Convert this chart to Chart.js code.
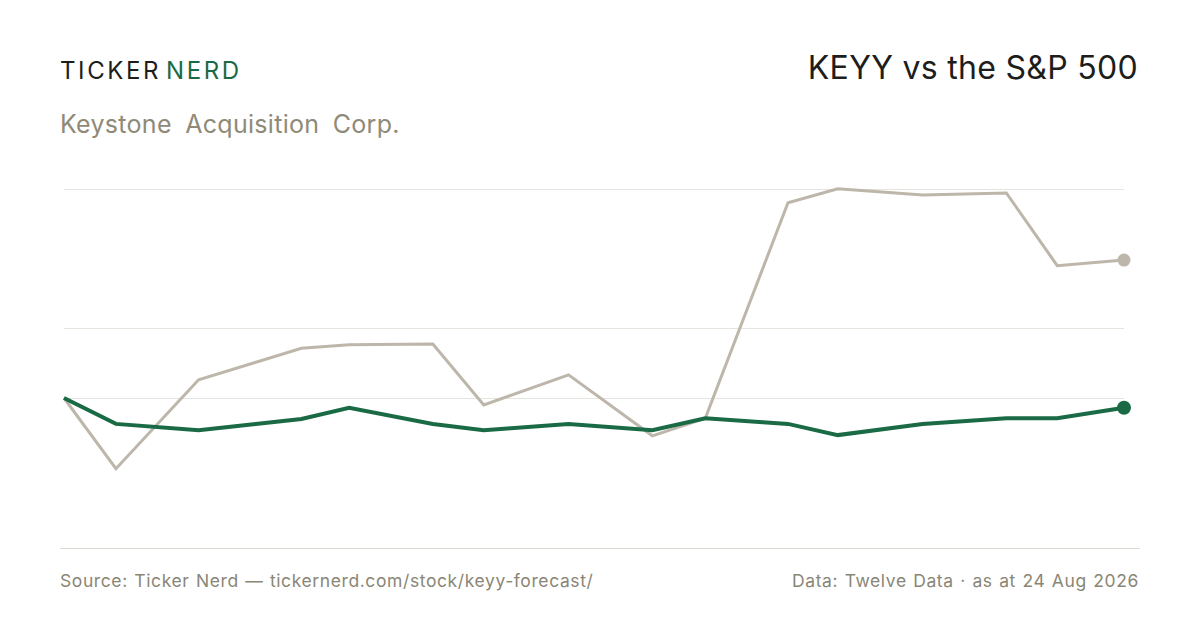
<!DOCTYPE html>
<html><head><meta charset="utf-8">
<script src="https://cdn.jsdelivr.net/npm/chart.js@4"></script>
<style>
body{margin:0;width:1200px;height:630px;background:#fff;font-family:Inter,"Noto Sans",sans-serif;position:relative;overflow:hidden}
.abs{position:absolute;white-space:nowrap}
#logo{left:60px;top:56px;font-size:24px;letter-spacing:2.6px;color:#1d1d1b}
#logo span{color:#1a6b45;margin-left:5px}
#sub{left:60px;top:109px;font-size:25px;color:#8f8a78;word-spacing:6px;letter-spacing:0.3px}
#title{right:62px;top:48px;font-size:32px;color:#1d1d1b;letter-spacing:0.3px}
#base{left:60px;width:1080px;top:548px;height:1px;background:#dcdad2}
.foot{top:570px;font-size:17.5px;color:#8a8676;letter-spacing:0.6px;word-spacing:1px}
canvas{position:absolute;left:0;top:0}
</style></head><body>
<div class="abs" id="logo">TICKER<span>NERD</span></div>
<div class="abs" id="sub">Keystone Acquisition Corp.</div>
<div class="abs" id="title">KEYY vs the S&amp;P 500</div>
<div class="abs" id="base"></div>
<div class="abs foot" style="left:60px">Source: Ticker Nerd — tickernerd.com/stock/keyy-forecast/</div>
<div class="abs foot" style="right:61px">Data: Twelve Data · as at 24 Aug 2026</div>
<canvas id="chart" width="1200" height="630"></canvas>
<script>
// x positions in time (0-100), % return since start
const times = [0, 4.9, 12.7, 22.4, 26.9, 34.8, 39.6, 47.6, 55.5, 60.5, 68.3, 73.0, 81.0, 88.9, 93.7, 100];
const keyy  = [0, -10.1, 2.6, 7.1, 7.6, 7.7, -1.0, 3.3, -5.4, -2.9, 27.9, 29.9, 29.0, 29.3, 18.9, 19.7];
const spx   = [0, -3.7, -4.6, -3.0, -1.4, -3.7, -4.6, -3.7, -4.6, -2.9, -3.7, -5.3, -3.7, -2.9, -2.9, -1.4];
const gridTicks = [0, 9.86, 29.86];

const lastDot = times.map((t, i) => i === times.length - 1 ? 5 : 0);
const toXY = arr => arr.map((v, i) => ({x: times[i], y: v}));

new Chart(document.getElementById("chart"), {
  type: "line",
  data: {
    datasets: [
      {data: toXY(spx), borderColor: "#1a6b45", backgroundColor: "#1a6b45", borderWidth: 4, pointRadius: lastDot, tension: 0, clip: false},
      {data: toXY(keyy), borderColor: "#bdb6aa", backgroundColor: "#bdb6aa", borderWidth: 3, pointRadius: lastDot, tension: 0, clip: false}
    ]
  },
  options: {
    responsive: false, animation: false,
    layout: {padding: {left: 64, right: 76, top: 189, bottom: 82}},
    plugins: {legend: {display: false}, tooltip: {enabled: false}},
    scales: {
      x: {type: "linear", min: 0, max: 100, display: false},
      y: {
        min: -21.43, max: 29.86,
        border: {display: false},
        grid: {color: "#e6e4de", lineWidth: 1, drawTicks: false},
        ticks: {display: false},
        afterBuildTicks: s => { s.ticks = gridTicks.map(v => ({value: v})); }
      }
    }
  }
});
</script>
</body></html>
